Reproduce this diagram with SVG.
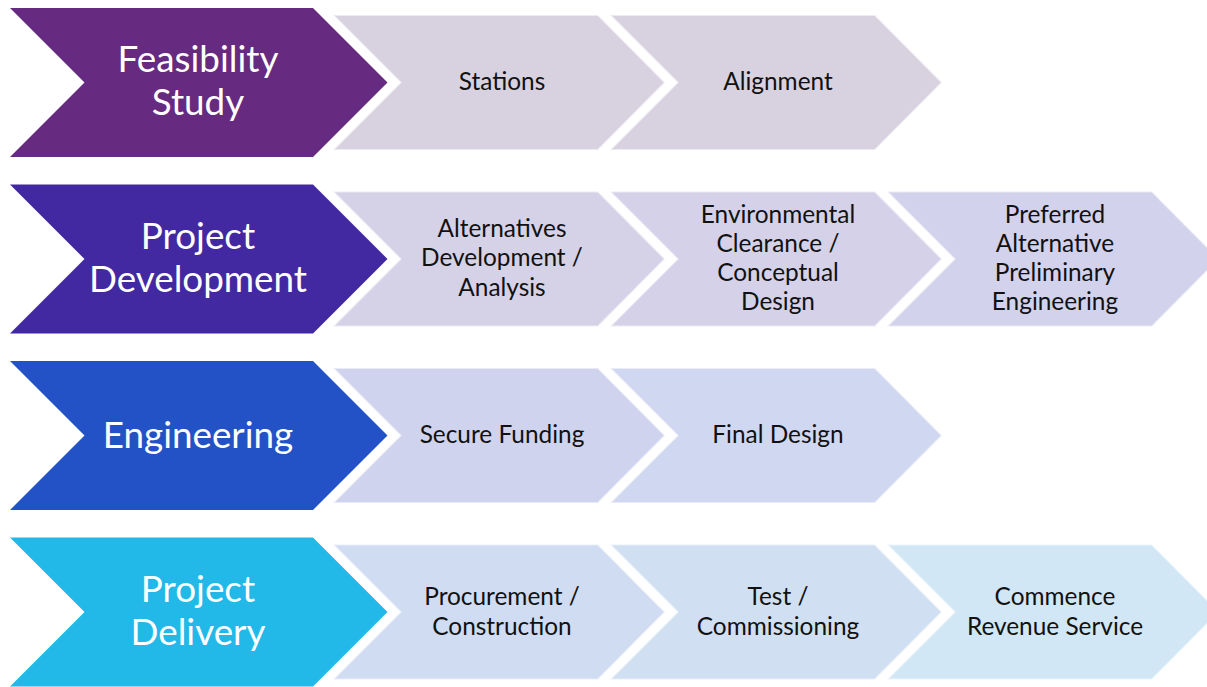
<svg xmlns="http://www.w3.org/2000/svg" width="1207" height="687" viewBox="0 0 1207 687">
<style>
.big text{font-family:Lato,"Open Sans",sans-serif;font-size:36.8px;fill:#ffffff;text-anchor:middle;}
.sm text{font-family:Lato,"Open Sans",sans-serif;font-size:24.4px;fill:#111111;text-anchor:middle;}
.sm polygon{stroke-width:2;stroke-opacity:0.55;stroke:#ffffff;}
</style>
<rect width="1207" height="687" fill="#ffffff"/>

<!-- Row 1 -->
<g id="feasibility" class="big">
<polygon points="10,8 313,8 387.5,82.5 313,157 10,157 84.5,82.5" fill="#662A80"/>
<text x="198" y="72">Feasibility</text>
<text x="198" y="115">Study</text>
</g>
<g id="stations" class="sm">
<polygon points="333,15 598,15 665,82.5 598,150 333,150 400.5,82.5" fill="#D8D2E0"/>
<text x="502" y="90">Stations</text>
</g>
<g id="alignment" class="sm">
<polygon points="610,15 875,15 942,82.5 875,150 610,150 677.5,82.5" fill="#D8D2E0"/>
<text x="778" y="90">Alignment</text>
</g>

<!-- Row 2 -->
<g id="projdev" class="big">
<polygon points="10,184.5 313,184.5 387.5,259 313,333.5 10,333.5 84.5,259" fill="#4329A1"/>
<text x="198" y="249">Project</text>
<text x="198" y="292">Development</text>
</g>
<g id="altdev" class="sm">
<polygon points="333,191.5 598,191.5 665,259 598,326.5 333,326.5 400.5,259" fill="#D5D1E7"/>
<text x="502" y="237">Alternatives</text>
<text x="502" y="266">Development /</text>
<text x="502" y="296">Analysis</text>
</g>
<g id="envclear" class="sm">
<polygon points="610,191.5 875,191.5 942,259 875,326.5 610,326.5 677.5,259" fill="#D4D1E9"/>
<text x="778" y="223">Environmental</text>
<text x="778" y="252">Clearance /</text>
<text x="778" y="281">Conceptual</text>
<text x="778" y="310">Design</text>
</g>
<g id="prefalt" class="sm">
<polygon points="887,191.5 1152,191.5 1219,259 1152,326.5 887,326.5 954.5,259" fill="#D3D2EC"/>
<text x="1055" y="223">Preferred</text>
<text x="1055" y="252">Alternative</text>
<text x="1055" y="281">Preliminary</text>
<text x="1055" y="310">Engineering</text>
</g>

<!-- Row 3 -->
<g id="engineering" class="big">
<polygon points="10,361 313,361 387.5,435.5 313,510 10,510 84.5,435.5" fill="#2352C7"/>
<text x="198" y="448">Engineering</text>
</g>
<g id="funding" class="sm">
<polygon points="333,368 598,368 665,435.5 598,503 333,503 400.5,435.5" fill="#CFD3EE"/>
<text x="502" y="443">Secure Funding</text>
</g>
<g id="finaldesign" class="sm">
<polygon points="610,368 875,368 942,435.5 875,503 610,503 677.5,435.5" fill="#D0D7F0"/>
<text x="778" y="443">Final Design</text>
</g>

<!-- Row 4 -->
<g id="projdel" class="big">
<polygon points="10,537.5 313,537.5 387.5,612 313,686.5 10,686.5 84.5,612" fill="#22B9E8"/>
<text x="198" y="602">Project</text>
<text x="198" y="645">Delivery</text>
</g>
<g id="procurement" class="sm">
<polygon points="333,544.5 598,544.5 665,612 598,679.5 333,679.5 400.5,612" fill="#CFDCF1"/>
<text x="502" y="605">Procurement /</text>
<text x="502" y="635">Construction</text>
</g>
<g id="test" class="sm">
<polygon points="610,544.5 875,544.5 942,612 875,679.5 610,679.5 677.5,612" fill="#D0E0F2"/>
<text x="778" y="605">Test /</text>
<text x="778" y="635">Commissioning</text>
</g>
<g id="commence" class="sm">
<polygon points="887,544.5 1152,544.5 1219,612 1152,679.5 887,679.5 954.5,612" fill="#D2E7F5"/>
<text x="1055" y="605">Commence</text>
<text x="1055" y="635">Revenue Service</text>
</g>

<g id="connectors"></g>
</svg>
